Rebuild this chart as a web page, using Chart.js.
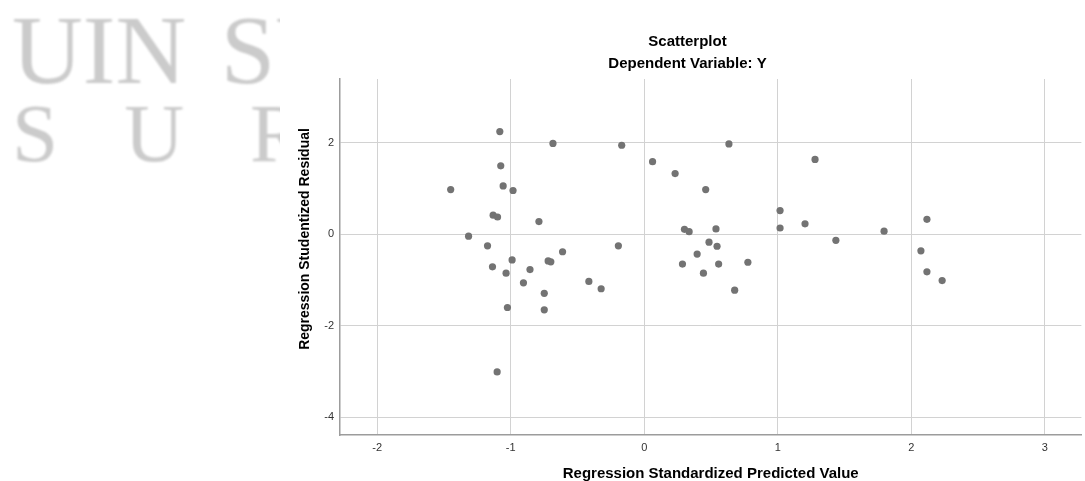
<!DOCTYPE html>
<html>
<head>
<meta charset="utf-8">
<script src="https://cdn.jsdelivr.net/npm/chart.js@4.4.1/dist/chart.umd.min.js"></script>
<style>
  html, body { margin: 0; padding: 0; background: #fff; overflow: hidden; }
  .mark {
    position: absolute; font-family: "Liberation Serif", serif; color: #cbcbcb;
    line-height: 1; white-space: nowrap; filter: blur(1.2px);
  }
  #m1 { left: 12px; top: 1px; font-size: 98px; word-spacing: 10px; }
  #m2 { left: 12px; top: 92px; font-size: 83px; letter-spacing: 66px; }
  #wrap { position: absolute; left: 0; top: 0; width: 1085px; height: 481px; }
</style>
</head>
<body>
<div class="mark" id="m1">UIN SUNAN AMPEL</div>
<div class="mark" id="m2">SURABAYA</div>
<div id="wrap"><canvas id="chart"></canvas></div>
<script>
// valores (predito padronizado x resíduo studentizado)
const predicted = [
  -1.450, -1.082, -1.075, -1.057, -0.983, -0.684, -0.169, 0.062, 0.231, 0.460,
  -1.132, -1.099, -0.789, -1.316, -1.174, -0.194, -0.612, 0.301, 0.336, 0.485,
  0.396, -1.137, -0.990, -1.035, -0.856, -0.720, -0.700, -0.905, -0.749, -0.749,
  -1.025, -0.415, -0.323, -1.102, 0.286, 0.443, 0.634, 1.279, 1.017, 1.017,
  1.204, 0.537, 0.545, 1.435, 1.796, 2.117, 2.072, 0.557, 0.776, 0.677,
  2.117, 2.231
]
const residual = [
  0.98, 2.25, 1.50, 1.06, 0.96, 1.99, 1.95, 1.59, 1.33, 0.98,
  0.42, 0.38, 0.28, -0.04, -0.25, -0.25, -0.38, 0.11, 0.06, -0.17,
  -0.43, -0.71, -0.56, -0.85, -0.77, -0.58, -0.60, -1.06, -1.29, -1.65,
  -1.60, -1.03, -1.19, -3.01, -0.65, -0.85, 1.98, 1.64, 0.52, 0.14,
  0.23, 0.12, -0.26, -0.13, 0.07, 0.33, -0.36, -0.65, -0.61, -1.22,
  -0.82, -1.01
]
const xTicks = [-2, -1, 0, 1, 2, 3]
const yTicks = [-4, -2, 0, 2]

const points = predicted.map((x, i) => ({ x: x, y: residual[i] }))

// fundo branco do gráfico por cima da marca d'água
const whiteBox = {
  id: 'whiteBox',
  beforeDraw(chart) {
    const c = chart.ctx
    c.save()
    c.fillStyle = '#fff'
    c.fillRect(280, 17, 805, 464)
    c.restore()
  }
}

// título do eixo y (fica um pouco acima do centro, como no original)
const yTitle = {
  id: 'yTitle',
  afterDraw(chart) {
    const c = chart.ctx
    c.save()
    c.translate(305, 239)
    c.rotate(-Math.PI / 2)
    c.font = 'bold 14px "Liberation Sans", Arial, sans-serif'
    c.fillStyle = '#000'
    c.textAlign = 'center'
    c.textBaseline = 'middle'
    c.fillText('Regression Studentized Residual', 0, 0)
    c.restore()
  }
}

const ctx = document.getElementById('chart').getContext('2d')

new Chart(ctx, {
  type: 'scatter',
  data: {
    datasets: [{
      data: points,
      backgroundColor: '#737373',
      borderWidth: 0,
      pointRadius: 3.6,
      pointHoverRadius: 3.6
    }]
  },
  options: {
    responsive: true,
    maintainAspectRatio: false,
    animation: false,
    layout: { padding: { left: 292, right: 2, top: 0, bottom: 0 } },
    plugins: {
      legend: { display: false },
      tooltip: { enabled: false },
      title: {
        display: true,
        text: ['Scatterplot', 'Dependent Variable: Y'],
        color: '#000',
        font: { family: '"Liberation Sans", Arial, sans-serif', size: 15, weight: 'bold', lineHeight: 1.5 },
        padding: { top: 30.25, bottom: 3.75 }
      }
    },
    scales: {
      x: {
        type: 'linear',
        min: -2.279,
        max: 3.274,
        afterBuildTicks: scale => { scale.ticks = xTicks.map(v => ({ value: v })) },
        afterFit: scale => { scale.height = 46 },
        grid: { color: '#d2d2d2', lineWidth: 1, drawTicks: false },
        border: { display: true, color: '#9c9c9c', width: 1.5 },
        ticks: {
          color: '#333',
          padding: 6,
          font: { family: '"Liberation Sans", Arial, sans-serif', size: 11 }
        },
        title: {
          display: true,
          text: 'Regression Standardized Predicted Value',
          color: '#000',
          font: { family: '"Liberation Sans", Arial, sans-serif', size: 15, weight: 'bold', lineHeight: 1 },
          padding: { top: 0, bottom: 0 }
        }
      },
      y: {
        type: 'linear',
        min: -4.39,
        max: 3.40,
        afterBuildTicks: scale => { scale.ticks = yTicks.map(v => ({ value: v })) },
        afterFit: scale => { scale.width = 48 },
        grid: { color: '#d2d2d2', lineWidth: 1, drawTicks: false },
        border: { display: true, color: '#9c9c9c', width: 1.5 },
        ticks: {
          color: '#333',
          padding: 6,
          font: { family: '"Liberation Sans", Arial, sans-serif', size: 11 }
        }
      }
    }
  },
  plugins: [whiteBox, yTitle]
})
</script>
</body>
</html>
